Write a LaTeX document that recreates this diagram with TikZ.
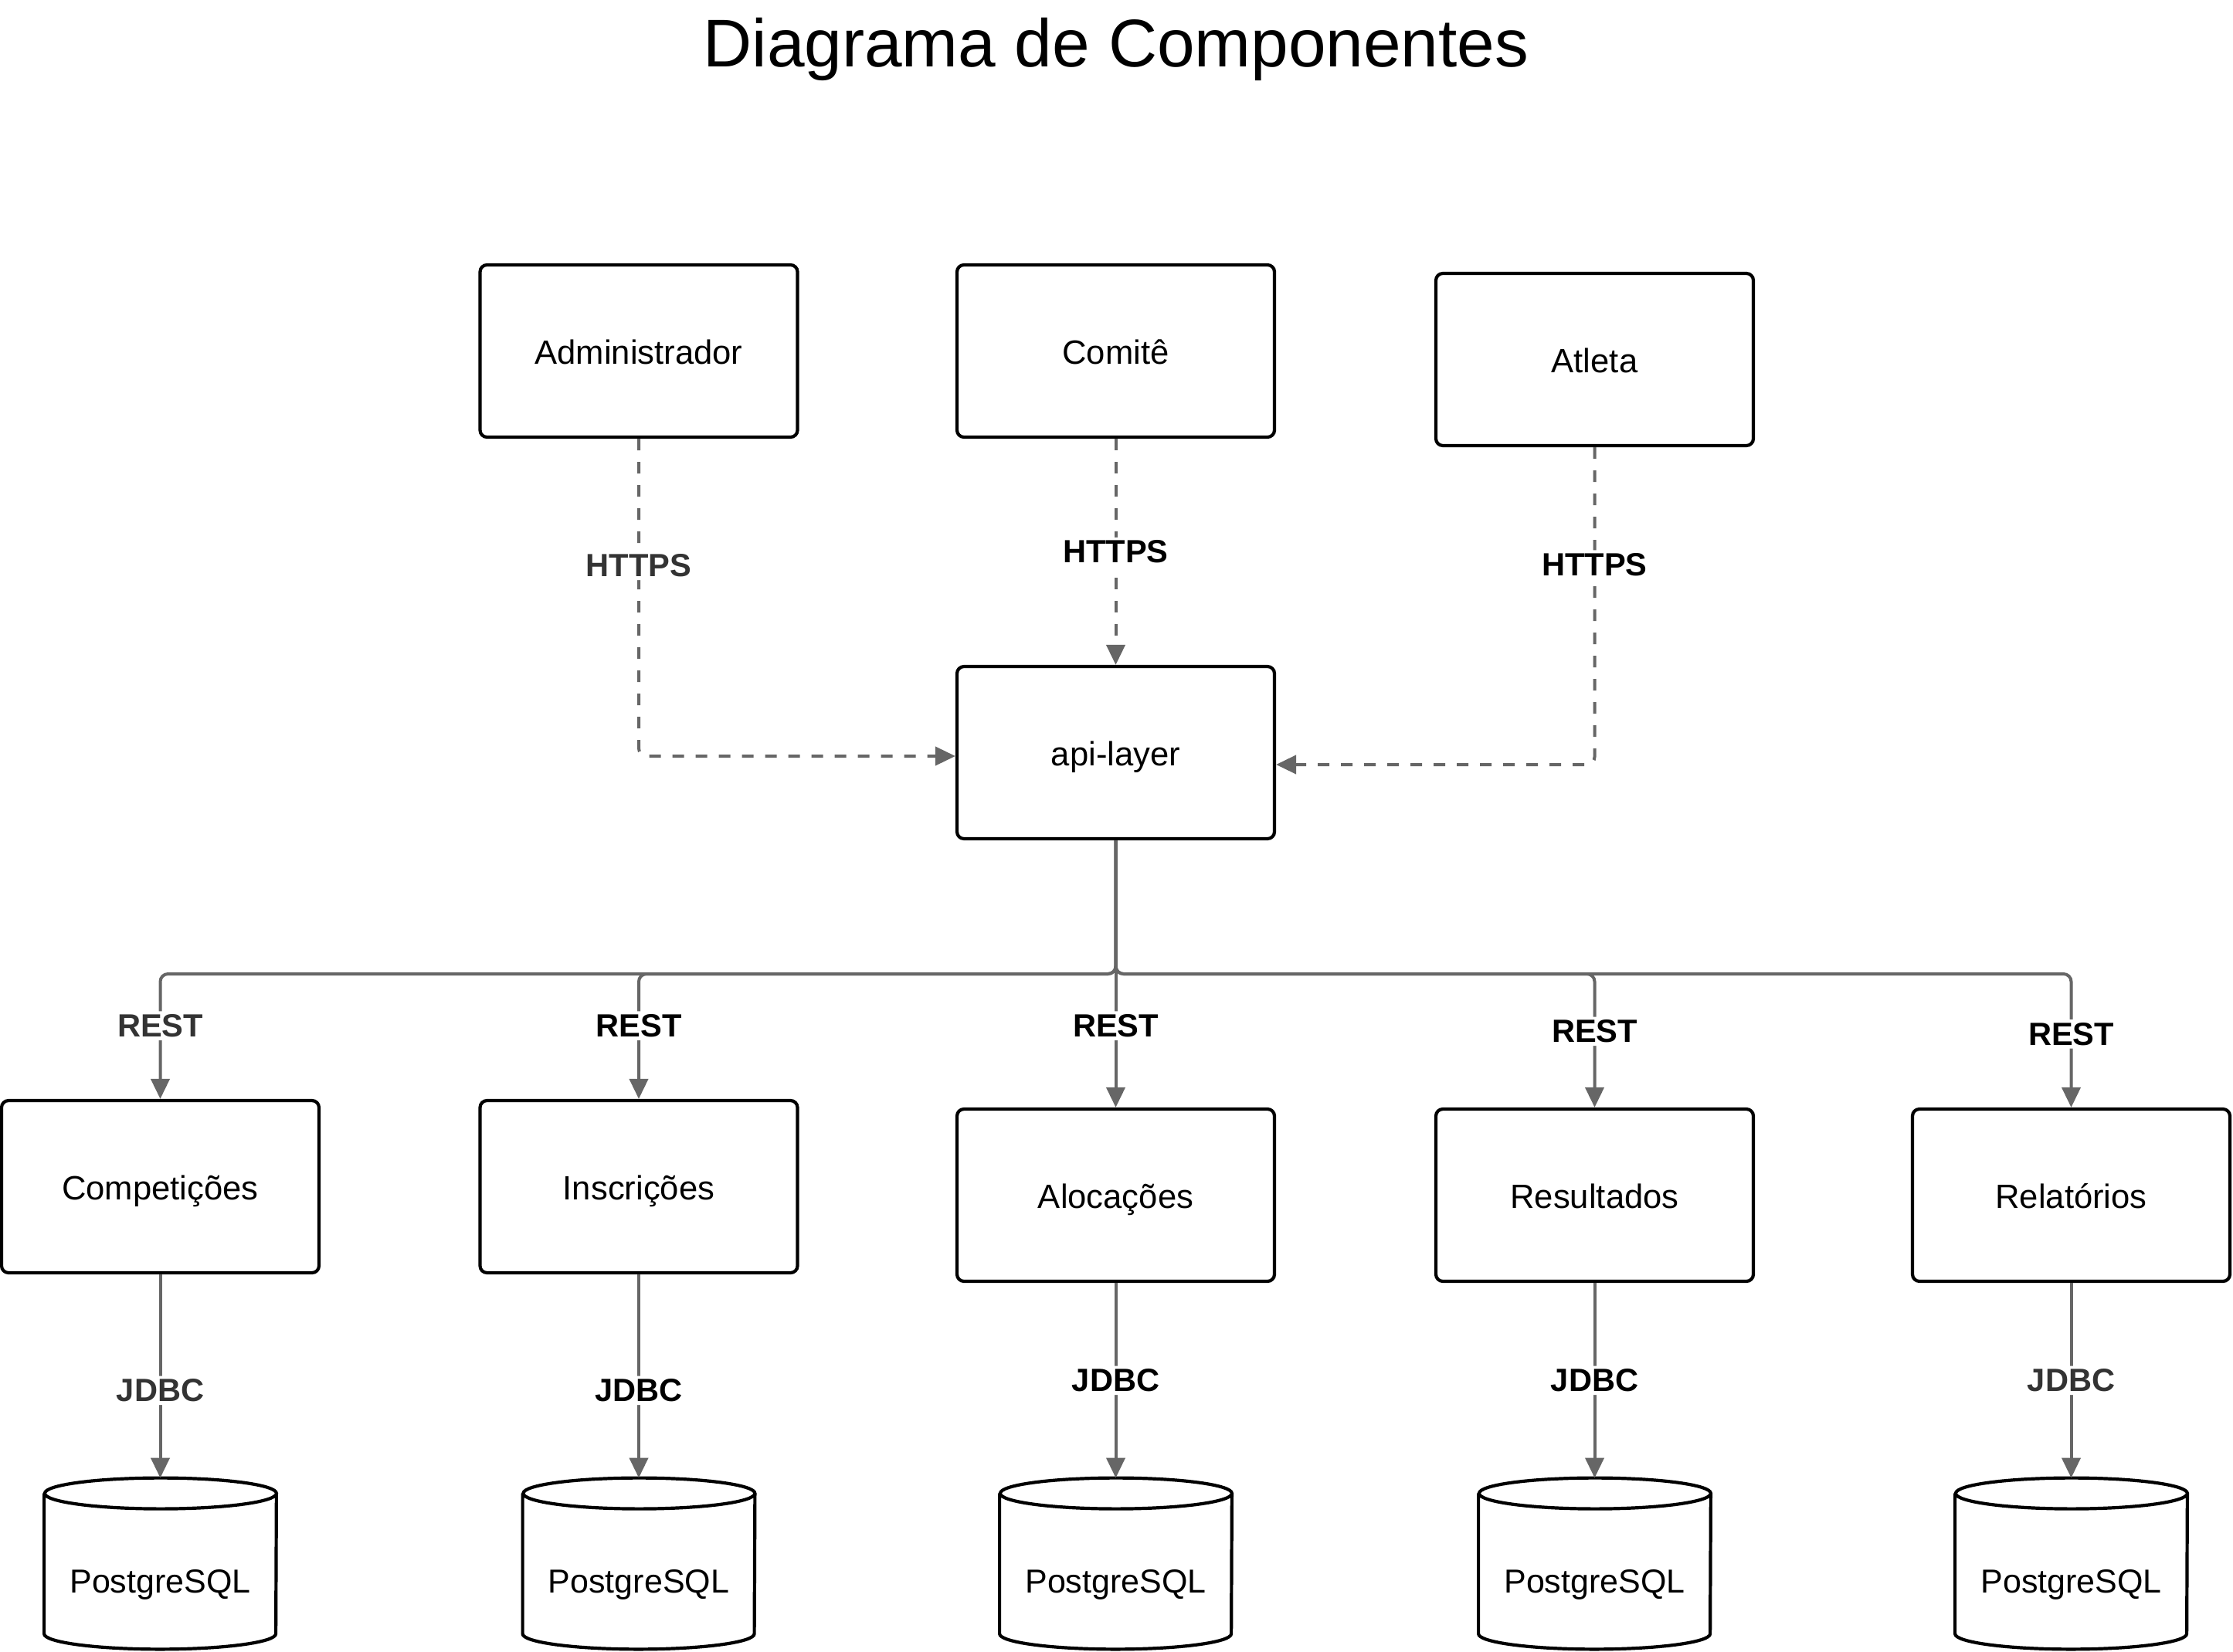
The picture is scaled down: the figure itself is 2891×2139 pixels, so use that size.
\documentclass[tikz,border=0pt]{standalone}
\usepackage{fontspec}
\setmainfont{Liberation Sans}
\usetikzlibrary{arrows.meta,calc}
\definecolor{linegray}{HTML}{666666}
\definecolor{labgray}{HTML}{333333}
\begin{document}
\begin{tikzpicture}[x=0.5pt,y=-0.5pt,
  comp/.style={draw=black,line width=2.1pt,rounded corners=4.5pt,fill=white,
    minimum width=205.5pt,minimum height=111.5pt,inner sep=0pt,
    font=\fontsize{21.8pt}{26pt}\selectfont,text height=20pt,text depth=2.9pt},
  dbnode/.style={inner sep=0pt,minimum width=150pt,minimum height=110.5pt,
    font=\fontsize{21.5pt}{26pt}\selectfont,text height=38pt,text depth=0pt},
  dbline/.style={draw=black,line width=2.1pt},
  conn/.style={draw=linegray,line width=2pt,-{Triangle[length=13pt,width=12pt]},rounded corners=5pt},
  dashconn/.style={conn,dash pattern=on 7.5pt off 7.5pt},
  lbl/.style={fill=white,inner sep=2pt,font=\bfseries\fontsize{20.8pt}{24pt}\selectfont,text=black},
  lblg/.style={lbl,text=labgray}]
\useasboundingbox (0,0) rectangle (2891,2139);

\node[font=\fontsize{43.7pt}{52pt}\selectfont,anchor=base] (title) at (1445,87) {Diagrama de Componentes};

\node[comp] (adm) at (827,454.5) {Administrador};
\node[comp] (com) at (1444.5,454.5) {Comitê};
\node[comp] (atl) at (2064.5,465.5) {Atleta};
\node[comp] (api) at (1444.5,974.5) {api-layer};

\node[comp] (c1) at (207.5,1536.5) {Competições};
\node[comp] (c2) at (827,1536.5) {Inscrições};
\node[comp] (c3) at (1444.5,1547.5) {Alocações};
\node[comp] (c4) at (2064.5,1547.5) {Resultados};
\node[comp] (c5) at (2681.5,1547.5) {Relatórios};

\foreach \i/\x in {1/207.5,2/827,3/1444.5,4/2064.5,5/2681.5}{
  \node[dbnode] (db\i) at (\x,2024.5) {PostgreSQL};
  \draw[dbline] ([yshift=-10pt]db\i.north west) -- ([yshift=10pt]db\i.south west)
    arc[start angle=180,end angle=360,x radius=75pt,y radius=10pt]
    -- ([yshift=-10pt]db\i.north east)
    arc[start angle=0,end angle=360,x radius=75pt,y radius=10pt];
}

% HTTPS connectors
\draw[dashconn] (adm.south) |- node[lblg,pos=0.2]{HTTPS} ([yshift=-2.25pt]api.west);
\draw[dashconn] (com.south) -- node[lbl,pos=0.5]{HTTPS} (api.north);
\draw[dashconn] (atl.south) |- node[lbl,pos=0.185]{HTTPS} ([yshift=-7.75pt]api.east);

% REST connectors
\coordinate (bus1) at (207.5,1261);
\coordinate (bus2) at (827,1261);
\coordinate (bus4) at (2064.5,1261);
\coordinate (bus5) at (2681.5,1261);
\draw[conn] (api.south) |- (bus1) -- node[lblg,pos=0.415]{REST} (c1.north);
\draw[conn] (api.south) |- (bus2) -- node[lbl,pos=0.415]{REST} (c2.north);
\draw[conn] (api.south) -- node[lbl,pos=0.694]{REST} (c3.north);
\draw[conn] (api.south) |- (bus4) -- node[lbl,pos=0.43]{REST} (c4.north);
\draw[conn] (api.south) |- (bus5) -- node[lbl,pos=0.45]{REST} (c5.north);

% JDBC connectors
\draw[conn] (c1.south) -- node[lblg,pos=0.57]{JDBC} (db1.north);
\draw[conn] (c2.south) -- node[lbl,pos=0.57]{JDBC} (db2.north);
\draw[conn] (c3.south) -- node[lbl,pos=0.5]{JDBC} (db3.north);
\draw[conn] (c4.south) -- node[lbl,pos=0.5]{JDBC} (db4.north);
\draw[conn] (c5.south) -- node[lblg,pos=0.5]{JDBC} (db5.north);
\end{tikzpicture}
\end{document}
